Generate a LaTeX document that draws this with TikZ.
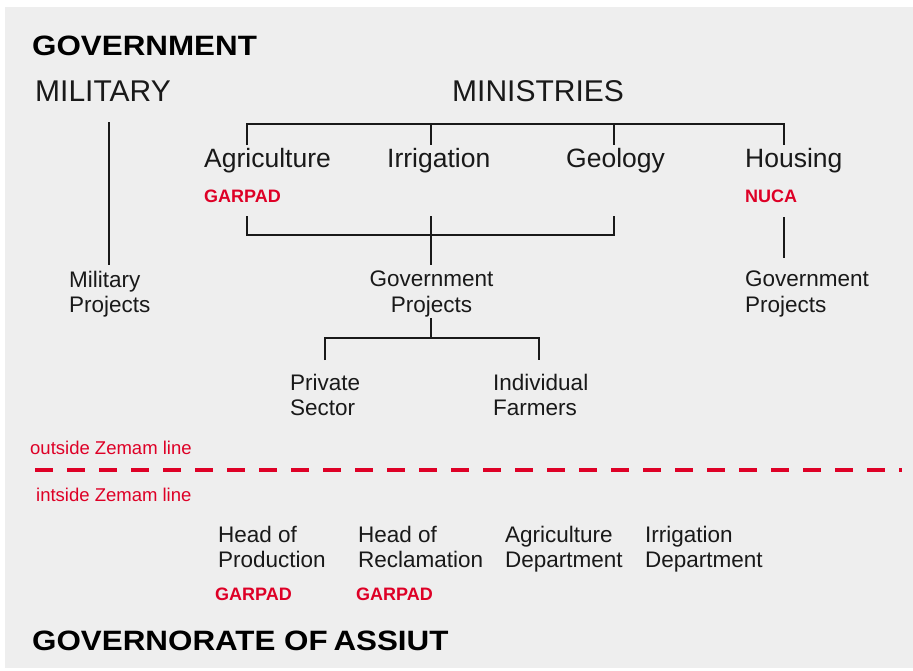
\documentclass[tikz,border=0pt]{standalone}
\usepackage{fontspec}
\setmainfont{Liberation Sans}
\newfontfamily\headfont[FakeStretch=1.12]{Liberation Sans}
\definecolor{zred}{RGB}{222,0,38}
\definecolor{bggray}{RGB}{238,238,238}
\definecolor{ink}{RGB}{25,25,25}
\tikzset{
  conn/.style={draw=ink, line width=1.1pt},
  bodytxt/.style={inner sep=0pt, anchor=north west, align=left, text=ink,
    font=\fontsize{22.5}{25.5}\selectfont},
  bodyctr/.style={bodytxt, anchor=north, align=center},
  mintxt/.style={inner sep=0pt, anchor=base west, text=ink, font=\fontsize{26.5}{30}\selectfont},
  bigtxt/.style={inner sep=0pt, anchor=base west, text=ink, font=\fontsize{30}{34}\selectfont},
  headtxt/.style={inner sep=0pt, anchor=base west, text=black, font=\headfont\bfseries\fontsize{28}{32}\selectfont},
  redtag/.style={inner sep=0pt, anchor=base west, text=zred, font=\bfseries\fontsize{18}{20}\selectfont},
  zemamtxt/.style={inner sep=0pt, anchor=base west, text=zred, font=\fontsize{18.5}{21}\selectfont},
  zemamline/.style={draw=zred, line width=3.5pt, dash pattern=on 17.5pt off 14.5pt}
}
\begin{document}
\begin{tikzpicture}[x=1pt,y=-1pt]
\useasboundingbox (0,0) rectangle (913,670);
\fill[white] (0,0) rectangle (913,670);
\fill[bggray] (5,7) rectangle (913,668);

% headings
\node[headtxt] (gov) at (32,55) {GOVERNMENT};
\node[bigtxt] (military) at (35,101) {MILITARY};
\node[bigtxt] (ministries) at (452,101) {MINISTRIES};

% ministries
\node[mintxt] (agri) at (204,167) {Agriculture};
\node[mintxt] (irri) at (387,167) {Irrigation};
\node[mintxt] (geo) at (566,167) {Geology};
\node[mintxt] (hous) at (745,167) {Housing};
\node[redtag] (garpad1) at (204,202) {GARPAD};
\node[redtag] (nuca) at (745,202) {NUCA};

% projects
\node[bodytxt] (milproj) at (69,270.7) {Military\\Projects};
\node[bodyctr] (govproj) at (431.5,270.7) {Government\\Projects};
\node[bodytxt] (govproj2) at (745,270.7) {Government\\Projects};
\node[bodytxt] (private) at (290,373.7) {Private\\Sector};
\node[bodytxt] (farmers) at (493,373.7) {Individual\\Farmers};

% Zemam line
\node[zemamtxt] (outside) at (30,454) {outside Zemam line};
\coordinate (zl) at (35,470);
\coordinate (zr) at (902,470);
\draw[zemamline] (zl) -- (zr);
\node[zemamtxt] (inside) at (36,501) {intside Zemam line};

% governorate
\node[bodytxt] (headprod) at (218,525.7) {Head of\\Production};
\node[bodytxt] (headrec) at (358,525.7) {Head of\\Reclamation};
\node[bodytxt] (agridept) at (505,525.7) {Agriculture\\Department};
\node[bodytxt] (irrdept) at (645,525.7) {Irrigation\\Department};
\node[redtag] (garpad2) at (215,600) {GARPAD};
\node[redtag] (garpad3) at (356,600) {GARPAD};
\node[headtxt] (governorate) at (32,650) {GOVERNORATE OF\hspace{-3pt} ASSIUT};

% connector coordinates
\coordinate (milT) at (109,122);
\coordinate (milB) at (109,265);
\coordinate (mbA) at (247,124);
\coordinate (mbI) at (431,124);
\coordinate (mbG) at (614,124);
\coordinate (mbH) at (784,124);
\coordinate (agriT) at (247,145);
\coordinate (irriT) at (431,145);
\coordinate (geoT) at (614,145);
\coordinate (housT) at (784,145);
\coordinate (agriB) at (247,216);
\coordinate (irriB) at (431,216);
\coordinate (geoB) at (614,216);
\coordinate (jA) at (247,235);
\coordinate (jI) at (431,235);
\coordinate (jG) at (614,235);
\coordinate (gpT) at (431,265);
\coordinate (housB) at (784,217);
\coordinate (gp2T) at (784,258);
\coordinate (gpB) at (431,318);
\coordinate (sJ) at (431,338);
\coordinate (sL) at (325,338);
\coordinate (sR) at (539,338);
\coordinate (privT) at (325,360);
\coordinate (farmT) at (539,360);

% connectors
\draw[conn] (milT) -- (milB);
\draw[conn] (agriT) -- (mbA) -- (mbH) -- (housT);
\draw[conn] (mbI) -- (irriT);
\draw[conn] (mbG) -- (geoT);
\draw[conn] (agriB) -- (jA) -- (jG) -- (geoB);
\draw[conn] (irriB) -- (gpT);
\draw[conn] (housB) -- (gp2T);
\draw[conn] (gpB) -- (sJ);
\draw[conn] (privT) -- (sL) -- (sR) -- (farmT);
\end{tikzpicture}
\end{document}
